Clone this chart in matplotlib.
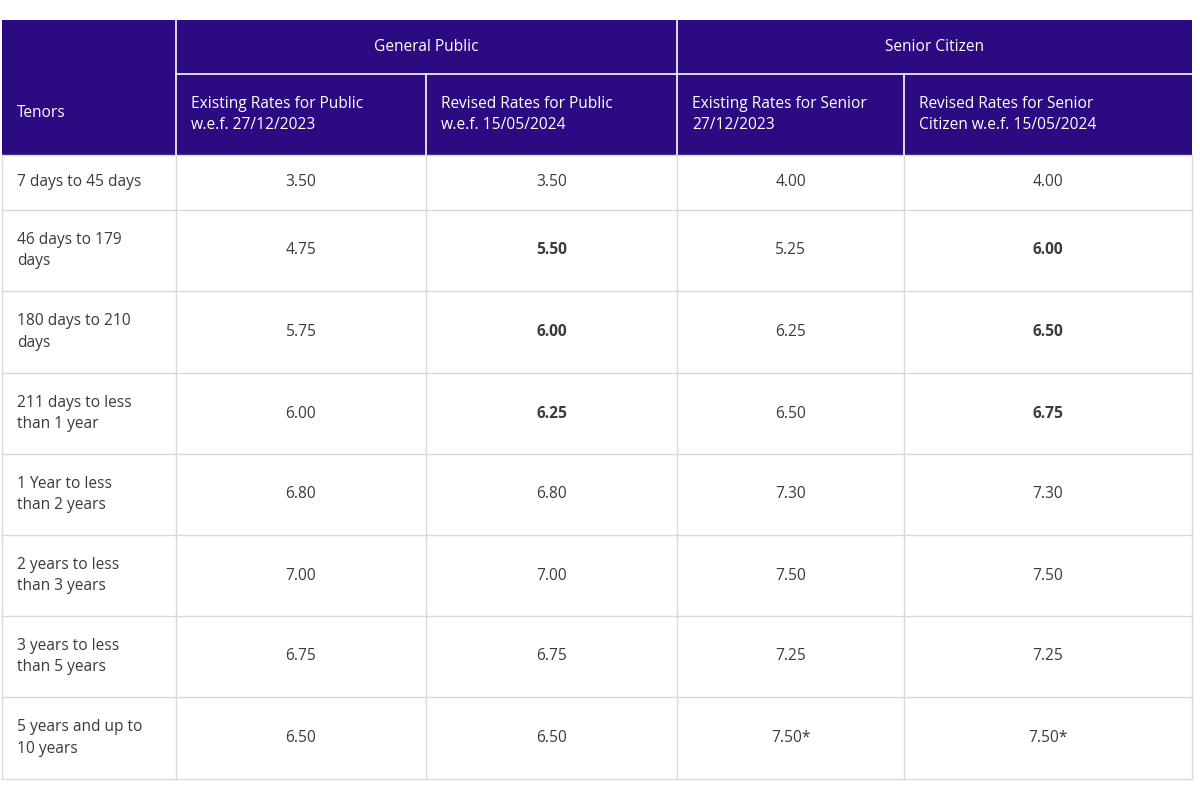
import matplotlib
matplotlib.use("Agg")
import matplotlib.pyplot as plt
from matplotlib.patches import Rectangle

tenors = ["7 days to 45 days", "46 days to 179\ndays", "180 days to 210\ndays",
          "211 days to less\nthan 1 year", "1 Year to less\nthan 2 years",
          "2 years to less\nthan 3 years", "3 years to less\nthan 5 years",
          "5 years and up to\n10 years"]
public_existing = ["3.50", "4.75", "5.75", "6.00", "6.80", "7.00", "6.75", "6.50"]
public_revised = ["3.50", "5.50", "6.00", "6.25", "6.80", "7.00", "6.75", "6.50"]
senior_existing = ["4.00", "5.25", "6.25", "6.50", "7.30", "7.50", "7.25", "7.50*"]
senior_revised = ["4.00", "6.00", "6.50", "6.75", "7.30", "7.50", "7.25", "7.50*"]
revised_bold = [False, True, True, True, False, False, False, False]
group_headers = ["General Public", "Senior Citizen"]
col_headers = ["Tenors", "Existing Rates for Public\nw.e.f. 27/12/2023",
               "Revised Rates for Public\nw.e.f. 15/05/2024",
               "Existing Rates for Senior\n27/12/2023",
               "Revised Rates for Senior\nCitizen w.e.f. 15/05/2024"]

xs = [2, 176, 426, 677, 904, 1192]
ys = [20, 74, 155, 210, 291, 373, 454, 535, 616, 697, 779]
HEAD = "#2c0a82"
GRID = "#d9d9d9"
TXT = "#3a3a3a"
FONT = "Open Sans"
FS = 11.2
LS = 1.45

fig = plt.figure(figsize=(12, 8), dpi=100)
ax = fig.add_axes([0, 0, 1, 1])
ax.set_xlim(0, 1200); ax.set_ylim(800, 0); ax.axis("off")

ax.add_patch(Rectangle((xs[0], ys[0]), xs[-1]-xs[0], ys[2]-ys[0], color=HEAD, lw=0))
wl = dict(color="white", lw=1.2)
for x in xs[1:-1]:
    top = ys[0] if x in (xs[1], xs[3]) else ys[1]
    ax.plot([x, x], [top, ys[2]], **wl)
ax.plot([xs[1], xs[-1]], [ys[1], ys[1]], **wl)
ax.text((xs[1]+xs[3])/2, (ys[0]+ys[1])/2, group_headers[0], color="white", ha="center", va="center", fontsize=FS, family=FONT)
ax.text((xs[3]+xs[5])/2, (ys[0]+ys[1])/2, group_headers[1], color="white", ha="center", va="center", fontsize=FS, family=FONT)
for i, h in enumerate(col_headers):
    yc = (ys[1]+ys[2])/2 if i else 113
    ax.text(xs[i]+15, yc, h, color="white", ha="left",
            va="center", fontsize=FS, family=FONT, linespacing=LS)

for y in ys[2:]:
    ax.plot([xs[0], xs[-1]], [y, y], color=GRID, lw=1)
for x in xs:
    ax.plot([x, x], [ys[2], ys[-1]], color=GRID, lw=1)

cols = [public_existing, public_revised, senior_existing, senior_revised]
for r in range(len(tenors)):
    yc = (ys[r+2]+ys[r+3])/2
    ax.text(xs[0]+15, yc, tenors[r], ha="left", va="center", fontsize=FS, family=FONT,
            color=TXT, linespacing=LS)
    for c, col in enumerate(cols):
        bold = revised_bold[r] and c in (1, 3)
        ax.text((xs[c+1]+xs[c+2])/2, yc, col[r], ha="center", va="center", fontsize=FS,
                family=FONT, color=TXT, weight="bold" if bold else "normal")

fig.savefig("out.png", dpi=100, facecolor="white")
